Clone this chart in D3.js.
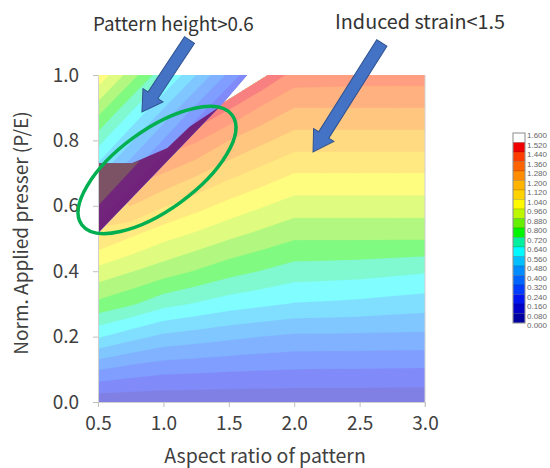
<!DOCTYPE html>
<html>
<head>
<meta charset="utf-8">
<script src="https://cdn.jsdelivr.net/npm/d3@7"></script>
<style>
  body { margin: 0; background: #fff; }
  text { font-family: "Noto Sans CJK JP", "Noto Sans", sans-serif; }
</style>
</head>
<body>
<svg id="chart" width="550" height="468"></svg>
<script>
// strain field, rows go from y=0 up to y=1.0, columns x=0.5..3.0
var strainX = [0.5, 0.75, 1.0, 1.25, 1.5, 1.75, 2.0, 2.25, 2.5, 2.75, 3.0];
var strainY = [0, 0.1, 0.2, 0.3, 0.4, 0.5, 0.6, 0.7, 0.8, 0.9, 1.0];
var strain = [
  [0.10, 0.10, 0.10, 0.10, 0.10, 0.10, 0.10, 0.10, 0.10, 0.10, 0.10],
  [0.325, 0.29, 0.267, 0.259, 0.251, 0.245, 0.24, 0.238, 0.237, 0.235, 0.234],
  [0.57, 0.51, 0.46, 0.439, 0.418, 0.40, 0.385, 0.384, 0.383, 0.381, 0.38],
  [0.78, 0.731, 0.666, 0.632, 0.598, 0.576, 0.554, 0.548, 0.54, 0.528, 0.517],
  [0.932, 0.884, 0.838, 0.794, 0.75, 0.716, 0.683, 0.678, 0.672, 0.66, 0.648],
  [1.10, 1.034, 0.975, 0.93, 0.884, 0.845, 0.806, 0.806, 0.806, 0.806, 0.806],
  [1.16, 1.20, 1.127, 1.07, 1.013, 0.967, 0.922, 0.922, 0.922, 0.922, 0.922],
  [1.25, 1.33, 1.28, 1.213, 1.146, 1.093, 1.04, 1.04, 1.04, 1.04, 1.04],
  [1.30, 1.42, 1.42, 1.37, 1.28, 1.217, 1.162, 1.162, 1.162, 1.162, 1.162],
  [1.35, 1.48, 1.52, 1.55, 1.45, 1.35, 1.28, 1.28, 1.28, 1.28, 1.28],
  [1.40, 1.50, 1.56, 1.60, 1.60, 1.52, 1.41, 1.405, 1.40, 1.40, 1.40]
];

// pattern height field in the upper left corner
var heightX = [0.5, 0.75, 1.0, 1.25, 1.5, 1.75];
var heightY = [0.5, 0.625, 0.75, 0.875, 1.0];
var heightVals = [
  [0.15, -0.03, -0.21, -0.39, -0.57, -0.75],
  [0.37, 0.19, 0.01, -0.17, -0.35, -0.53],
  [0.59, 0.41, 0.23, 0.05, -0.13, -0.31],
  [0.80, 0.62, 0.44, 0.26, 0.08, -0.10],
  [1.02, 0.84, 0.66, 0.48, 0.30, 0.12]
];

var levels = [0.00, 0.08, 0.16, 0.24, 0.32, 0.40, 0.48, 0.56, 0.64, 0.72, 0.80,
              0.88, 0.96, 1.04, 1.12, 1.20, 1.28, 1.36, 1.44, 1.52, 1.60];
var levelColors = ["#0000a0", "#0000c8", "#0014f0", "#003cff", "#0064ff", "#008cff",
                   "#00beff", "#00faff", "#00f0a0", "#00f500", "#64f000", "#bef800",
                   "#fffa00", "#ffd200", "#ffb400", "#ff8c00", "#ff6400", "#ff3c00",
                   "#f00000", "#ffffff"];

// region boundaries (data coords)
var upperZone = [[0.5, 0.517], [1.456, 0.914], [1.64, 1.0], [0.5, 1.0]];
var lowerZone = [[0.5, 0], [3.0, 0], [3.0, 1.0], [1.80, 1.0], [1.456, 0.914], [0.5, 0.517]];
var darkZone = [[0.5, 0.517], [0.5, 0.73], [0.76, 0.73], [1.03, 0.777], [1.20, 0.842], [1.43, 0.903]];
var grayZone = [[0.5, 0.60], [0.5, 0.73], [0.76, 0.73], [0.82, 0.738]];

var xTicks = [0.5, 1.0, 1.5, 2.0, 2.5, 3.0];
var yTicks = [0.0, 0.2, 0.4, 0.6, 0.8, 1.0];

var svg = d3.select("#chart");
var x = d3.scaleLinear().domain([0.5, 3.0]).range([98, 425]);
var y = d3.scaleLinear().domain([0, 1]).range([402, 75]);

var line = d3.line().x(function(d) { return x(d[0]); }).y(function(d) { return y(d[1]); });
var defs = svg.append("defs");
defs.append("clipPath").attr("id", "clipLow").append("path").attr("d", line(lowerZone) + "Z");
defs.append("clipPath").attr("id", "clipUp").append("path").attr("d", line(upperZone) + "Z");

function pastel(c) { return d3.interpolateRgb("#ffffff", c)(0.5); }

function drawField(xs, ys, rows, clipId) {
  var nx = xs.length, ny = ys.length;
  var dx = xs[1] - xs[0], dy = ys[1] - ys[0];
  var values = [].concat.apply([], rows);
  var bands = d3.contours().size([nx, ny]).thresholds(levels.slice(0, -1))(values);
  var proj = d3.geoTransform({
    point: function(gx, gy) {
      this.stream.point(x(xs[0] + (gx - 0.5) * dx), y(ys[0] + (gy - 0.5) * dy));
    }
  });
  var path = d3.geoPath(proj);
  svg.append("g").attr("clip-path", "url(#" + clipId + ")")
    .selectAll("path").data(bands).join("path")
      .attr("d", path)
      .attr("fill", function(d, i) { return pastel(levelColors[i]); })
      .attr("stroke", function(d, i) { return pastel(levelColors[i]); })
      .attr("stroke-width", 0.3);
}

drawField(strainX, strainY, strain, "clipLow");
drawField(heightX, heightY, heightVals, "clipUp");

// shaded zone
svg.append("path").attr("d", line(darkZone) + "Z")
  .attr("fill", "#6e1469").attr("fill-opacity", 0.88);
svg.append("path").attr("d", line(grayZone) + "Z")
  .attr("fill", "#7c5a60").attr("fill-opacity", 0.85);

// axes
svg.append("g").attr("transform", "translate(0," + y(0) + ")")
  .call(d3.axisBottom(x).tickValues(xTicks).tickFormat(d3.format(".1f")).tickSize(5).tickPadding(10).tickSizeOuter(0));
svg.append("g").attr("transform", "translate(" + x(0.5) + ",0)")
  .call(d3.axisLeft(y).tickValues(yTicks).tickFormat(d3.format(".1f")).tickSize(5).tickPadding(14).tickSizeOuter(0));
svg.selectAll(".domain").attr("stroke", "#d0d0d0");
svg.selectAll(".tick line").attr("stroke", "#c0c0c0");
svg.selectAll(".tick text").attr("fill", "#404040").style("font-size", "19px")
  .style("font-family", "'Noto Sans CJK JP', sans-serif");
svg.append("line").attr("x1", x(3)).attr("x2", x(3)).attr("y1", y(1)).attr("y2", y(0) + 5)
  .attr("stroke", "#d0d0d0");

svg.append("text").attr("x", 265).attr("y", 463).attr("text-anchor", "middle")
  .attr("fill", "#404040").style("font-size", "19.5px").text("Aspect ratio of pattern");
svg.append("text").attr("transform", "translate(28,233) rotate(-90)").attr("text-anchor", "middle")
  .attr("fill", "#404040").style("font-size", "19px").text("Norm. Applied presser (P/E)");

// legend
var lg = svg.append("g");
var sw = 9.5, legendTop = 133;
lg.selectAll("rect").data(levelColors.slice().reverse()).join("rect")
  .attr("x", 513).attr("y", function(d, i) { return legendTop + i * sw; })
  .attr("width", 12).attr("height", sw)
  .attr("fill", function(d) { return d; })
  .attr("stroke", "rgba(0,0,0,0.25)").attr("stroke-width", 0.5);
lg.append("rect").attr("x", 513).attr("y", legendTop).attr("width", 12).attr("height", sw * 20)
  .attr("fill", "none").attr("stroke", "#999");
lg.selectAll("text").data(levels.slice().reverse()).join("text")
  .attr("x", 527).attr("y", function(d, i) { return legendTop + i * sw + 5; })
  .attr("fill", "#666").style("font-size", "8px").style("font-family", "'Liberation Sans', Arial, sans-serif")
  .text(function(d) { return d3.format(".3f")(d); });

// annotations
svg.append("text").attr("x", 93).attr("y", 31).attr("fill", "#333").style("font-size", "18.8px")
  .text("Pattern height>0.6");
svg.append("text").attr("x", 335).attr("y", 29).attr("fill", "#333").style("font-size", "19.8px")
  .text("Induced strain<1.5");

svg.append("ellipse").attr("cx", 157).attr("cy", 170).attr("rx", 93).attr("ry", 40)
  .attr("transform", "rotate(-36,157,170)")
  .attr("fill", "none").attr("stroke", "#00b050").attr("stroke-width", 3.5);

function blockArrow(p0, p1) {
  var x0 = x(p0[0]), y0 = y(p0[1]), x1 = x(p1[0]), y1 = y(p1[1]);
  var L = Math.hypot(x1 - x0, y1 - y0);
  var ang = Math.atan2(y1 - y0, x1 - x0) * 180 / Math.PI;
  var hw = 6, hh = 12, hl = 20;
  var pts = [[0, -hw], [L - hl, -hw], [L - hl, -hh], [L, 0], [L - hl, hh], [L - hl, hw], [0, hw]];
  svg.append("polygon").attr("points", pts.map(function(p) { return p.join(","); }).join(" "))
    .attr("transform", "translate(" + x0 + "," + y0 + ") rotate(" + ang + ")")
    .attr("fill", "#4472c4").attr("stroke", "#2f528f").attr("stroke-width", 1);
}
blockArrow([1.20, 1.107], [0.836, 0.887]);
blockArrow([2.67, 1.098], [2.144, 0.765]);
</script>
</body>
</html>
